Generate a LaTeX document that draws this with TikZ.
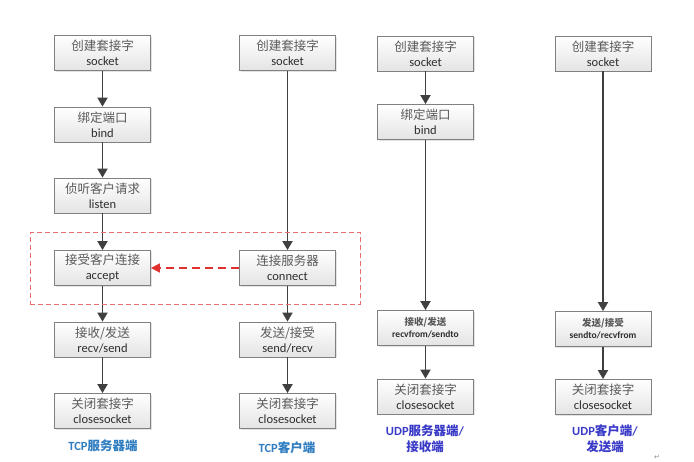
\documentclass[tikz,border=0pt]{standalone}
\usepackage{fontspec}
\setmainfont{Carlito}
\newfontfamily\cjk{Noto Sans CJK SC}
\newfontfamily\symfont{DejaVu Sans}
\usepackage{tikz}
\usetikzlibrary{arrows.meta,positioning,shadows,fit}
\definecolor{BoxLine}{HTML}{808080}
\definecolor{BoxLow}{HTML}{E4E4E4}
\definecolor{HanGrey}{HTML}{5A5A5A}
\definecolor{LatDark}{HTML}{2E2E2E}
\definecolor{ArrGrey}{HTML}{404040}
\definecolor{TcpBlue}{HTML}{2F7DC0}
\definecolor{UdpBlue}{HTML}{3A3AC8}
\definecolor{LinkRed}{HTML}{E03030}

\begin{document}
\begin{tikzpicture}[x=1pt,y=-1pt,
  fbox/.style={draw=BoxLine,line width=0.8pt,top color=white,bottom color=BoxLow,
    drop shadow={shadow xshift=1.2pt,shadow yshift=-1.2pt,fill=black!22},
    minimum width=96pt,minimum height=35pt,inner sep=1pt,align=center,
    font=\fontsize{12.5}{15}\selectfont,text=LatDark},
  sfbox/.style={fbox,font=\fontsize{9.5}{12}\selectfont\bfseries},
  hdr/.style={font=\fontsize{12.5}{16}\selectfont\bfseries,align=center},
  arr/.style={-{Triangle[length=9pt,width=10pt]},line width=1.8pt,draw=ArrGrey},
  link/.style={-{Triangle[length=9pt,width=9pt]},line width=1.6pt,draw=LinkRed,
    dash pattern=on 8pt off 5pt}
]
  \useasboundingbox (0,0) rectangle (694,461);

  % TCP server side
  \node[fbox] (s1) at (102.5,53)    {{\cjk\color{HanGrey}创建套接字}\\socket};
  \node[fbox] (s2) at (102.5,124.5) {{\cjk\color{HanGrey}绑定端口}\\bind};
  \node[fbox] (s3) at (102.5,195.5) {{\cjk\color{HanGrey}侦听客户请求}\\listen};
  \node[fbox] (s4) at (102.5,268)   {{\cjk\color{HanGrey}接受客户连接}\\accept};
  \node[fbox] (s5) at (102.5,339.5) {{\cjk\color{HanGrey}接收/发送}\\recv/send};
  \node[fbox] (s6) at (102.5,411)   {{\cjk\color{HanGrey}关闭套接字}\\closesocket};
  \draw[arr] (s1)--(s2);
  \draw[arr] (s2)--(s3);
  \draw[arr] (s3)--(s4);
  \draw[arr] (s4)--(s5);
  \draw[arr] (s5)--(s6);
  \node[hdr,text=TcpBlue] (tcps) at (103,446) {TCP{\cjk 服务器端}};

  % TCP client side
  \node[fbox] (c1) at (287.5,53)    {{\cjk\color{HanGrey}创建套接字}\\socket};
  \node[fbox] (c2) at (287.5,268)   {{\cjk\color{HanGrey}连接服务器}\\connect};
  \node[fbox] (c3) at (287.5,339.5) {{\cjk\color{HanGrey}发送/接受}\\send/recv};
  \node[fbox] (c4) at (287.5,411)   {{\cjk\color{HanGrey}关闭套接字}\\closesocket};
  \draw[arr] (c1)--(c2);
  \draw[arr] (c2)--(c3);
  \draw[arr] (c3)--(c4);
  \node[hdr,text=TcpBlue] (tcpc) at (287,448) {TCP{\cjk 客户端}};

  % connection request, framed
  \node[draw=LinkRed!70,line width=0.8pt,dash pattern=on 5pt off 3pt,
    inner xsep=24pt,inner ysep=18pt,fit=(s4)(c2)] (frame) {};
  \draw[link] (c2.west)--(s4.east);

  % UDP receiver
  \node[fbox]  (u1) at (425.5,53.5) {{\cjk\color{HanGrey}创建套接字}\\socket};
  \node[fbox]  (u2) at (425.5,122)  {{\cjk\color{HanGrey}绑定端口}\\bind};
  \node[sfbox] (u3) at (425.5,328)  {{\cjk\color{HanGrey}接收/发送}\\recvfrom/sendto};
  \node[fbox]  (u4) at (425.5,396.5){{\cjk\color{HanGrey}关闭套接字}\\closesocket};
  \draw[arr] (u1)--(u2);
  \draw[arr] (u2)--(u3);
  \draw[arr] (u3)--(u4);
  \node[hdr,text=UdpBlue] (udps) at (425,439) {UDP{\cjk 服务器端}/\\{\cjk 接收端}};

  % UDP sender
  \node[fbox]  (v1) at (603,53.5) {{\cjk\color{HanGrey}创建套接字}\\socket};
  \node[sfbox] (v2) at (603,329)  {{\cjk\color{HanGrey}发送/接受}\\sendto/recvfrom};
  \node[fbox]  (v3) at (603,397)  {{\cjk\color{HanGrey}关闭套接字}\\closesocket};
  \draw[arr] (v1)--(v2);
  \draw[arr] (v2)--(v3);
  \node[hdr,text=UdpBlue] (udpc) at (605,439) {UDP{\cjk 客户端}/\\{\cjk 发送端}};

  \node[text=black!45,font=\symfont\fontsize{7}{7}\selectfont] (mark) at (657,457) {↵};
\end{tikzpicture}
\end{document}
